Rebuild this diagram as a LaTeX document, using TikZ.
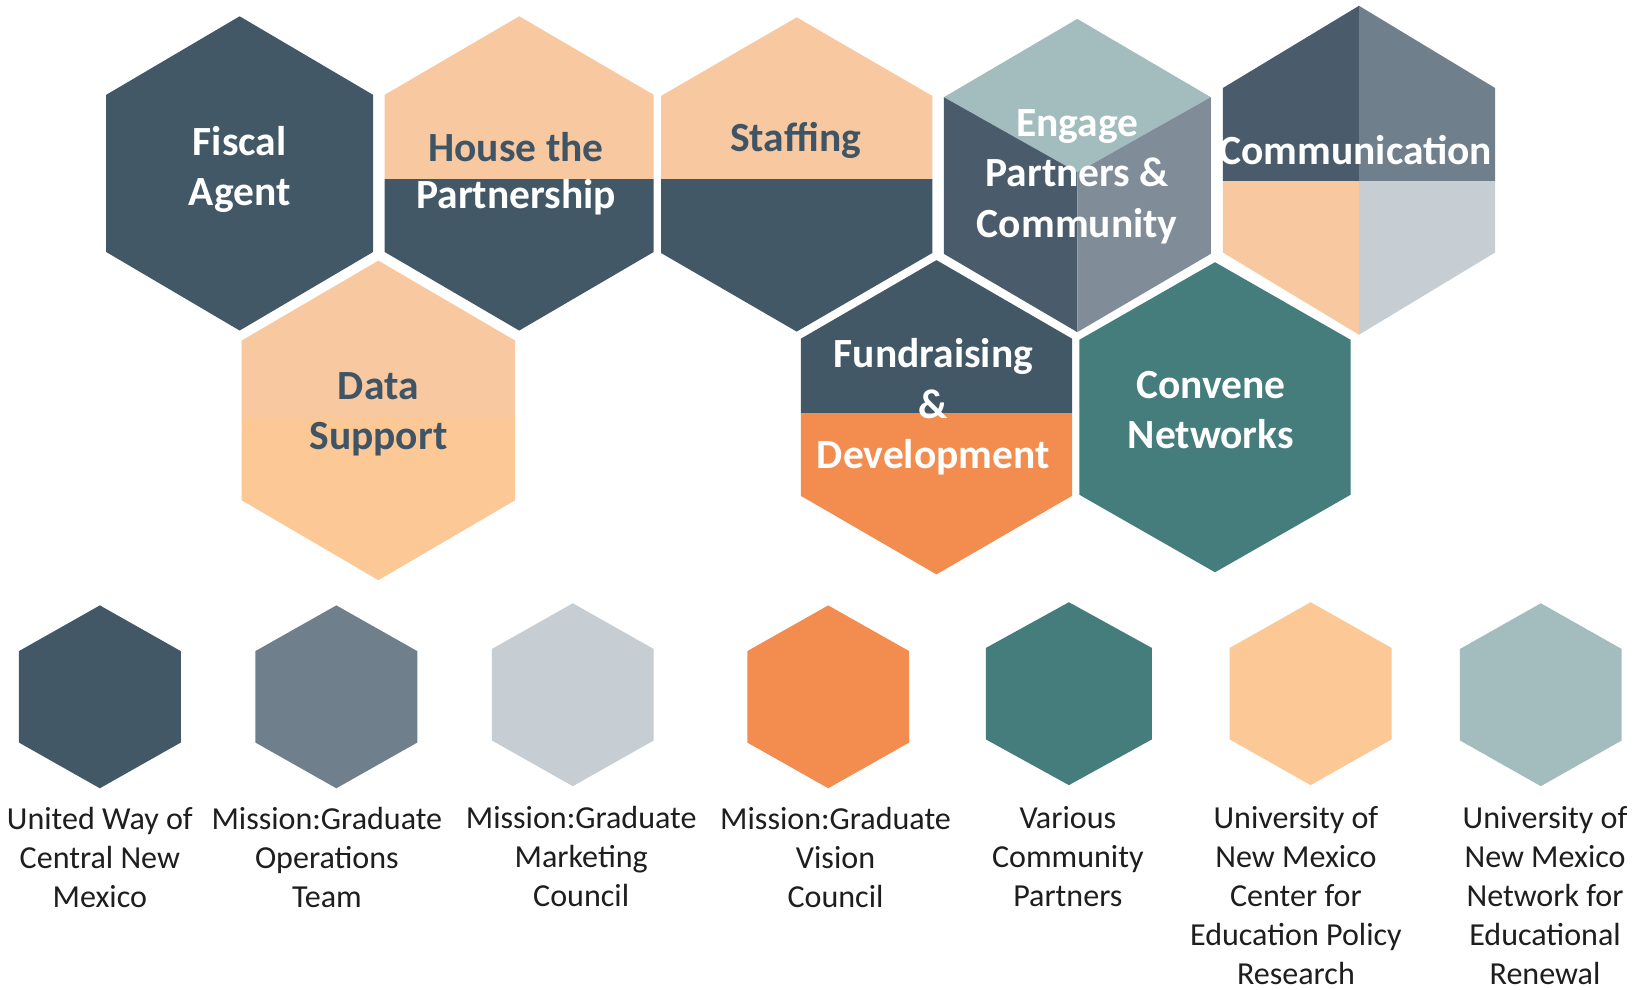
\documentclass[tikz,border=0pt]{standalone}
\usepackage{fontspec}
\setmainfont{Carlito}
\definecolor{slate}{HTML}{425867}
\definecolor{slateb}{HTML}{4A5C6C}
\definecolor{greyc}{HTML}{808C98}
\definecolor{ltteal}{HTML}{A3BCBE}
\definecolor{peach}{HTML}{F8C8A0}
\definecolor{peachb}{HTML}{FBC896}
\definecolor{orng}{HTML}{F28C4F}
\definecolor{teal}{HTML}{457C7C}
\definecolor{greyb}{HTML}{6F808C}
\definecolor{ltgrey}{HTML}{C6CED3}
\definecolor{darktxt}{HTML}{3F5566}
\definecolor{labc}{HTML}{1E1E1E}
% hexagon: cx, cy, width, height
\newcommand{\hexfill}[5]{\fill[#5] (#1,#2-#4/2) -- (#1+#3/2,#2-#4/4) -- (#1+#3/2,#2+#4/4) -- (#1,#2+#4/2) -- (#1-#3/2,#2+#4/4) -- (#1-#3/2,#2-#4/4) -- cycle;}
\newcommand{\hexclip}[4]{\clip (#1,#2-#4/2) -- (#1+#3/2,#2-#4/4) -- (#1+#3/2,#2+#4/4) -- (#1,#2+#4/2) -- (#1-#3/2,#2+#4/4) -- (#1-#3/2,#2-#4/4) -- cycle;}
\tikzset{
  big/.style={font=\fontsize{39.5}{48}\selectfont\bfseries, align=center, inner sep=0pt},
  lab/.style={font=\fontsize{30.5}{37}\selectfont, text=labc, align=center, inner sep=0pt},
}
\begin{document}
\begin{tikzpicture}[x=1pt,y=-1pt]
\useasboundingbox[fill=white] (0,0) rectangle (1568,941);
% ---------- top cluster ----------
% Fiscal Agent
\hexfill{228}{165}{254}{299}{slate}
% House the Partnership
\begin{scope}
\hexclip{494}{165}{256}{299}
\fill[peach] (360,0) rectangle (630,170);
\fill[slate] (360,170) rectangle (630,330);
\end{scope}
% Staffing
\begin{scope}
\hexclip{758}{166}{258}{299}
\fill[peach] (620,0) rectangle (900,170);
\fill[slate] (620,170) rectangle (900,330);
\end{scope}
% Engage (cube)
\coordinate (eT) at (1025,18);
\coordinate (eUL) at (898,92.5);
\coordinate (eUR) at (1152,92.5);
\coordinate (eLL) at (898,241.5);
\coordinate (eLR) at (1152,241.5);
\coordinate (eB) at (1025,316);
\coordinate (eC) at (1025,164);
\fill[ltteal] (eT) -- (eUR) -- (eC) -- (eUL) -- cycle;
\fill[slateb] (eUL) -- (eC) -- (eB) -- (eLL) -- cycle;
\fill[greyc] (eC) -- (eUR) -- (eLR) -- (eB) -- cycle;
% Communication
\begin{scope}
\hexclip{1293}{162}{259}{313}
\fill[slateb] (1150,0) rectangle (1293,172);
\fill[greyb] (1293,0) rectangle (1440,172);
\fill[peach] (1150,172) rectangle (1293,330);
\fill[ltgrey] (1293,172) rectangle (1440,330);
\end{scope}
% Data Support
\begin{scope}
\hexclip{360}{400}{260}{304}
\fill[peach] (220,240) rectangle (500,397);
\fill[peachb] (220,397) rectangle (500,560);
\end{scope}
% Fundraising & Development
\begin{scope}
\hexclip{891}{397}{258}{299}
\fill[slate] (750,240) rectangle (1030,393);
\fill[orng] (750,393) rectangle (1030,560);
\end{scope}
% Convene Networks
\hexfill{1156}{397}{258}{295}{teal}
% top labels
\node[big, text=white] (tFiscal) at (228,161) {Fiscal\\Agent};
\node[big, text=darktxt] (tHouse1) at (491,140) {House the};
\node[big, text=white] (tHouse2) at (491,188) {Partnership};
\node[big, text=darktxt] (tStaff) at (757,134) {Staffing};
\node[big, text=white] (tEngage) at (1025,168) {Engage\\Partners \&\\Community};
\node[big, text=white] (tComm) at (1290,143) {Communication};
\node[big, text=darktxt] (tData) at (360,394) {Data\\Support};
\node[big, text=white] (tFund) at (888,387) {Fundraising\\\&\\Development};
\node[big, text=white] (tConv) at (1152,390) {Convene\\Networks};
% ---------- legend row ----------
\hexfill{95}{663}{154}{174}{slate}
\hexfill{320}{663}{154}{174}{greyb}
\hexfill{545}{661}{154}{174}{ltgrey}
\hexfill{788}{663}{154}{174}{orng}
\hexfill{1017}{660}{158}{174}{teal}
\hexfill{1247}{660}{154}{174}{peachb}
\hexfill{1466}{661}{154}{174}{ltteal}
\node[lab] (l1) at (95,816) {United Way of\\Central New\\Mexico};
\node[lab] (l2) at (311,816) {Mission:Graduate\\Operations\\Team};
\node[lab] (l3) at (553,815) {Mission:Graduate\\Marketing\\Council};
\node[lab] (l4) at (795,816) {Mission:Graduate\\Vision\\Council};
\node[lab] (l5) at (1016,815) {Various\\Community\\Partners};
\node[lab] (l6) at (1233,852) {University of\\New Mexico\\Center for\\Education Policy\\Research};
\node[lab] (l7) at (1470,852) {University of\\New Mexico\\Network for\\Educational\\Renewal};
\end{tikzpicture}
\end{document}
